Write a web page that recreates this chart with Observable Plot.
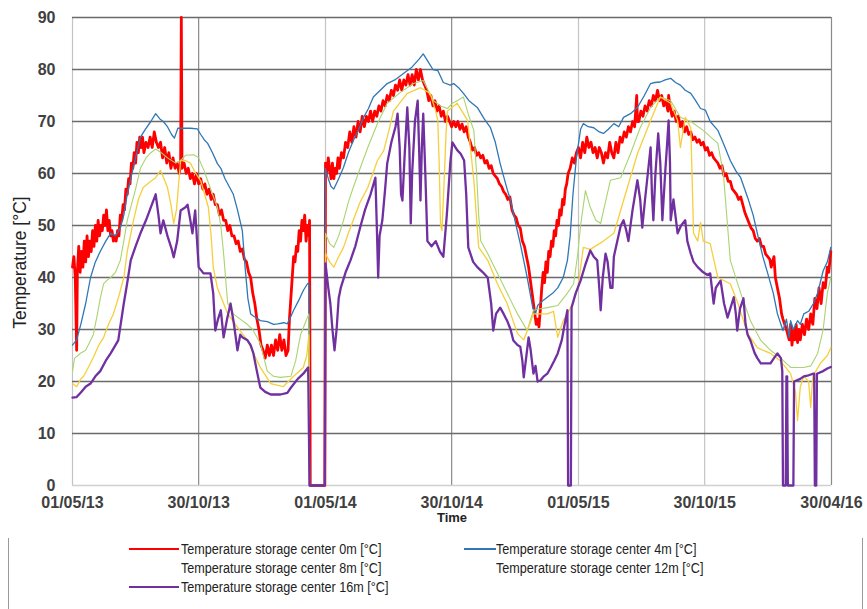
<!DOCTYPE html>
<html>
<head>
<meta charset="utf-8">
<script src="https://cdn.jsdelivr.net/npm/d3@7"></script>
<script src="https://cdn.jsdelivr.net/npm/@observablehq/plot@0.6"></script>
<style>
  html, body { margin: 0; padding: 0; background: #fff; }
  #wrap { position: relative; width: 867px; height: 609px; background: #fff; overflow: hidden; }
  #legend { position: absolute; left: 8px; top: 538px; width: 853px; height: 71px;
            border-left: 1px solid #9a9a9a; border-right: 1px solid #9a9a9a; }
  .item { position: absolute; font-family: "Liberation Sans", Arial, sans-serif;
          font-size: 14px; color: #222; white-space: nowrap; line-height: 16px;
          transform: scaleX(0.9); transform-origin: left center; }
  .sw { position: absolute; height: 2px; }
</style>
</head>
<body>
<div id="wrap">
  <div id="chart"></div>
  <div id="legend"></div>
</div>
<script>
// ---- Data (day offset from 01/05/2013, temperature °C) ----
const seriesNames = [
  "Temperature storage center 0m [°C]",
  "Temperature storage center 4m [°C]",
  "Temperature storage center 8m [°C]",
  "Temperature storage center 12m [°C]",
  "Temperature storage center 16m [°C]"
];
const yTicks = [0, 10, 20, 30, 40, 50, 60, 70, 80, 90];
const xTickDays = [0, 182, 365, 547, 730, 912, 1095];
const xTickLabels = ["01/05/13", "30/10/13", "01/05/14", "30/10/14", "01/05/15", "30/10/15", "30/04/16"];

const t0m = [
[0,42],[2,44],[4,40],[6,26],[7,41],[9,46],[11,41],[13,45],[15,42],[17,47],[19,43],[21,48],[23,44],[25,47],[27,45],[29,49],[31,46],[33,50],[35,47],[37,51],[39,48],[41,50],[43,49],[45,52],[47,50],[49,53],[51,49],[53,51],[55,48],[57,49],[59,47],[61,48],[63,47],[65,49],[67,48],[69,52],[71,51],[73,54],[75,53],[77,57],[79,56],[81,59],[83,58],[85,62],[87,61],[89,64],[91,62],[93,66],[95,64],[97,67],[99,65],[101,67],[103,64],[106,66],[109,65],[112,67],[115,65],[118,68],[121,66],[124,65],[127,66],[130,63],[133,65],[136,62],[139,64],[142,61],[145,63],[148,61],[151,62],[154,60],[156,62],[157,90],[158,61],[161,62],[164,60],[167,61],[170,59],[173,60],[176,58],[179,60],[182,58],[185,59],[188,57],[191,58],[194,56],[197,57],[200,55],[203,56],[206,54],[209,54],[212,52],[215,53],[218,51],[221,51],[224,49],[227,50],[230,48],[233,48],[236,46.5],[239,47],[242,45],[245,45.5],[248,43.5],[251,43],[254,41],[257,40],[260,37],[263,35],[266,32],[269,30],[272,27],[275,26],[278,24.5],[281,27],[284,25],[287,27],[290,25],[293,28],[296,26],[299,29],[302,26],[305,28],[308,25],[311,26],[313,32],[315,36],[317,40],[319,44],[321,43],[323,46],[325,45],[327,49],[329,47],[331,51],[333,49],[335,52],[337,47],[339,50],[341,48],[342,51],[343,0],[364,0],
[365,62],[367,60],[369,63],[371,61],[373,59],[375,62],[377,59],[379,61],[381,60],[383,63],[385,61],[388,64],[391,63],[394,66],[397,65],[400,68],[403,66],[406,69],[409,67],[412,70],[415,68],[418,71],[421,69],[424,71],[427,70],[430,72],[433,70],[436,72],[439,71],[442,73],[445,72],[448,74],[451,73],[454,75],[457,74],[460,76],[463,75],[466,77],[469,76],[472,78],[475,76],[478,78],[481,77],[484,79],[487,77],[490,79],[493,77],[496,80],[499,78],[502,80],[505,78],[508,77],[511,76],[514,74],[517,75],[520,73],[523,74],[526,72],[529,73],[532,71],[535,72],[538,70],[541,71],[544,70],[547,69],[550,70],[553,69],[556,70],[559,68.5],[562,69.5],[565,68],[568,69],[571,67],[574,66],[577,64.5],[580,65],[583,63.5],[586,64],[589,63],[592,63.5],[595,62],[598,62.5],[601,61],[604,61.5],[607,60],[610,59.5],[613,59],[616,58],[619,57.5],[622,56.5],[625,56],[628,55],[631,55.5],[634,53],[637,52],[640,51.5],[643,50],[646,49.5],[649,47],[652,46],[655,44],[658,42],[661,39],[664,36],[667,33],[669,31],[671,32],[673,30.5],[675,34],[677,38],[679,41],[681,39],[683,43],[685,41],[687,45],[689,44],[691,47],[693,46],[695,49],[697,48],[699,51],[701,50],[703,53],[705,52],[707,55],[709,54],[711,57],[713,58],[715,60],
[718,61],[721,63],[724,62],[727,64],[730,65],[733,63],[736,66],[739,64],[742,67],[745,65],[748,66],[751,64],[754,65],[757,63],[760,65],[763,64],[766,62],[769,64],[772,63],[775,66],[778,64],[781,63],[784,66],[787,64],[790,67],[793,66],[796,68],[799,67],[802,69],[805,68],[808,70],[811,69],[814,75],[815,70],[817,70],[820,72],[823,71],[826,73],[829,72],[832,74],[835,73],[838,75],[841,74],[844,76],[847,74],[850,75],[853,73],[856,74],[859,72],[860,75],[862,73],[865,71],[868,72],[871,70],[874,71],[877,69],[880,70],[883,68],[886,69],[889,67.5],[892,68],[895,66.5],[898,67],[901,66],[904,66.5],[907,65.5],[910,66],[913,64.5],[916,65],[919,63.5],[922,64],[925,63],[928,62.5],[931,62],[934,61],[937,61.5],[940,59.5],[943,60],[946,58.5],[949,58.5],[952,57],[955,56.5],[958,56],[961,55],[964,55.5],[967,54],[970,52.5],[973,51.5],[976,50.5],[979,49.5],[982,49],[985,47.5],[988,47],[991,47.5],[994,46],[997,46],[1000,44.5],[1003,44],[1006,43.5],[1008,42],[1010,43],[1012,44],[1014,40],[1017,38],[1020,36],[1023,33],[1025,32],[1030,30],[1034,28],[1036,31],[1038,27],[1040,30],[1042,28],[1044,31],[1046,27.5],[1048,30],[1050,28],[1053,31],[1056,29],[1059,32],[1062,30],[1065,33],[1068,31],[1071,36],[1074,34],[1077,38],[1080,35],[1083,39],[1086,38],[1089,42],[1091,41],[1094,45]
];

const t4m = [
[0,27],[6,28],[12,31],[19,35],[26,40],[33,43],[40,45],[48,47],[55,48.5],[62,48],[69,49.5],[74,52],[79,56],[84,59],[91,63],[98,67],[105,68.5],[113,70],[120,71.5],[126,70.5],[131,70],[137,69],[143,67.5],[147,66.8],[152,68.7],[160,68.7],[170,68.7],[180,68.6],[185,67.5],[190,66.5],[195,65.8],[202,64],[209,61.9],[214,61],[220,59],[226,57.5],[232,56],[238,53],[245,49],[249,42],[253,36],[257,33],[262,32.5],[271,31.7],[281,31.5],[290,31],[296,31.1],[305,31.3],[310,31.1],[315,32.5],[319,33.7],[326,35.5],[333,37.5],[339,38.8],[341,39],[342,0],[364,0],
[365,61],[369,59],[373,57.5],[377,57],[384,59],[391,61.2],[398,64],[405,66.3],[413,68.5],[420,70.8],[427,72.5],[434,74.7],[444,76],[454,77.3],[465,78],[477,79.2],[490,80.5],[500,82],[506,83],[513,81.5],[520,80],[527,79.8],[535,77.5],[545,77],[550,77.3],[557,76.5],[564,75.4],[572,74],[584,72.7],[594,70.5],[603,68.8],[610,66],[617,61.9],[627,57],[632,54.8],[640,50],[646,46.5],[656,40],[664,34.2],[668,33],[671,34.6],[678,35.5],[685,36.2],[693,37],[700,38],[708,40],[714,43.3],[718,48],[722,56],[727,63],[733,68.5],[737,69.6],
[744,69],[752,68.8],[760,68],[766,67.7],[773,68.5],[781,69.6],[788,69],[795,70.8],[805,71.5],[815,72.7],[825,75],[834,77.3],[840,77.5],[848,77.6],[855,78],[863,78.3],[870,77.5],[877,77],[884,76],[892,75.4],[899,74],[906,72.5],[913,72.2],[920,70],[931,68.3],[940,65.5],[949,62.5],[957,60.5],[964,59.2],[974,55.4],[982,52],[988,48.5],[996,44],[1003,40.8],[1011,37],[1017,33],[1025,29.8],[1030,32],[1034,28.5],[1036,31.7],[1040,30],[1046,31.7],[1050,31],[1055,33],[1062,33.5],[1069,35],[1075,37],[1083,41.3],[1089,43],[1094,45.8]
];

const t8m = [
[0,22],[3,24.5],[8,25],[12,25.5],[19,26],[26,27.9],[30,29],[36,33],[40,36],[45,38.8],[50,39.5],[55,40],[62,41],[69,43.3],[74,47],[79,51],[84,53.5],[91,57],[98,61],[106,63],[113,64],[120,64.7],[128,64],[137,63],[149,62],[156,62.5],[163,63.5],[175,63.6],[182,63],[185,62],[190,60.5],[195,58.6],[202,56],[209,53.5],[214,50],[218,44.6],[222,38],[224,35],[232,33],[242,32],[252,31],[260,30],[271,27.3],[281,22],[290,21],[300,20.8],[315,21],[322,24],[329,29],[335,31],[341,33],[342,0],[364,0],
[365,48.5],[371,46.5],[377,45.8],[384,48],[391,51],[398,54.5],[405,57.3],[415,61],[426,65],[440,69.6],[454,73.5],[473,75.6],[492,77.3],[506,77.9],[513,76],[521,74],[531,73],[541,72.5],[548,73.5],[555,74],[564,74.7],[572,71],[579,68.3],[583,60],[586,52],[589,47],[599,44.6],[613,40.8],[627,37],[642,33],[656,29.8],[665,33.7],[675,34],[685,34.2],[700,34.6],[714,37],[723,38.8],[729,44.6],[733,50],[740,56.7],[747,53.5],[755,51],[762,50.4],[768,54],[776,58.7],[791,59.2],[805,63.8],[819,68.8],[834,72.7],[848,74.7],[863,74],[877,70.8],[892,70],[910,68.3],[931,65.8],[939,60],[945,50],[949,43.3],[964,37],[978,31.7],[993,27.9],[1007,26],[1021,24.6],[1036,22.7],[1055,22.7],[1065,23],[1075,25.4],[1083,30],[1089,37],[1094,40]
];

const t12m = [
[0,19.6],[6,19],[12,20.5],[16,21],[22,22.5],[30,24.6],[38,27],[45,28.5],[52,31],[59,33],[66,36],[74,40],[79,45],[88,51],[95,55],[102,57.3],[113,58.5],[120,59.2],[127,60.6],[132,59],[137,57.3],[142,54],[146,50.4],[150,53],[156,62.5],[163,62.5],[170,62],[178,60],[185,58.6],[196,53.5],[200,48],[203,42],[209,38],[218,35],[224,33],[238,30.4],[252,28],[271,22.7],[286,19.6],[304,19],[319,21],[333,22.7],[338,25],[341,29],[342,0],[364,0],
[365,44.6],[371,43],[377,42],[384,44],[391,45.8],[398,48.5],[405,51],[415,54.5],[426,57.3],[440,62.5],[449,64.4],[456,68],[463,72],[483,75.4],[502,76.5],[516,75.4],[524,72],[527,70.2],[529,62],[531,50],[533,49],[536,58],[539,68],[541,72],[555,73.5],[570,70.2],[579,58.7],[586,45.8],[599,43.3],[613,38.8],[627,35],[642,29.2],[651,28],[665,33],[685,33],[694,33.5],[700,28.5],[708,31.7],[714,33],[723,35.4],[729,38],[737,45.8],[747,45.4],[766,47],[781,48.5],[795,54.8],[815,63.8],[834,70.2],[848,74.7],[863,73.5],[873,70.2],[877,65],[884,70.8],[892,68.8],[896,48.5],[902,47],[906,50.6],[910,47],[920,46.5],[931,40],[949,38.8],[959,35.4],[974,29.2],[988,26.5],[1007,25.4],[1021,24],[1036,21.5],[1043,18],[1046,12.5],[1050,19],[1055,21],[1062,20],[1065,15],[1068,21],[1079,23.5],[1089,25],[1094,26.5]
];

const t16m = [
[0,16.9],[6,17],[12,17.9],[19,19],[26,19.6],[33,21],[40,22],[48,24],[55,25.4],[62,27],[66,27.9],[74,35],[79,39],[84,43.3],[91,46],[98,48.5],[106,51],[113,53.5],[120,56],[124,52],[127,48.5],[131,51],[137,48],[143,45.5],[146,43.9],[151,47],[156,52.9],[163,53.5],[166,54],[170,51],[173,48.5],[177,52.9],[182,42],[189,40.8],[199,40.8],[203,37],[206,29.8],[210,32],[214,33.7],[218,28.5],[223,32],[228,35],[233,31],[238,26],[242,29],[245,28.5],[252,28],[257,27],[261,25.4],[266,22],[271,18.8],[278,18],[286,17.5],[300,17.5],[310,17.8],[315,18.8],[325,20.5],[333,21.5],[340,22.7],[342,0],[364,0],
[365,42.7],[369,38],[372,35],[375,30],[378,26],[381,30],[384,36],[387,38],[394,41],[401,43.3],[408,46],[415,49.6],[422,53],[430,56],[437,59.2],[439,50],[441,40],[443,48],[447,51],[451,57],[454,61.9],[460,66],[466,69],[469,71.5],[472,65],[474,56],[476,54.8],[479,63],[483,72.7],[486,65],[488,50.4],[490,60],[494,70],[498,74],[500,65],[502,54.8],[504,65],[506,71.5],[509,60],[512,47],[518,46],[524,47],[530,45],[535,44],[540,52],[545,62],[548,66],[555,64.5],[560,63.8],[565,62.5],[568,56],[571,45.8],[578,43],[584,42],[592,41],[599,40],[604,35],[607,29.8],[611,33],[617,34.2],[622,33],[627,31.7],[632,30],[636,27.9],[642,27],[646,26.7],[649,24],[651,20.8],[654,24],[658,28.5],[661,26],[665,21.5],[668,23],[671,20],[675,20.2],[680,21],[685,21.5],[690,22.7],[695,24],[700,25.4],[706,28],[710,31],[714,33.7],[715,0],[719,0],[720,34.2],
[726,37],[733,39.4],[740,42.5],[747,45.2],[752,44],[757,43.3],[760,38],[762,33.7],[765,40],[769,44.6],[772,43],[776,38],[779,38],[781,44],[786,47],[791,50],[795,51],[799,49],[802,47],[808,53],[815,58.7],[819,55],[822,49.6],[826,55],[830,60],[834,65],[836,56],[838,51],[841,60],[845,67.7],[848,62],[851,51],[855,60],[858,66],[860,70.2],[862,62],[863,51],[867,55],[873,48.5],[878,50],[884,51],[887,47],[892,44.6],[896,43],[902,42],[910,41],[916,40.5],[920,40.8],[925,35],[928,38],[935,39.4],[940,35],[945,32.3],[949,34],[954,36.2],[957,33],[959,29.8],[963,34],[968,36],[971,31],[974,29],[978,27.9],[984,25.5],[988,24.5],[993,23.5],[1000,23.5],[1007,23.5],[1012,24.5],[1017,25.4],[1022,24.5],[1024,22],[1025,0],[1029,0],[1030,21],[1031,21],[1032,0],[1040,0],[1041,20],[1050,20.5],[1055,21],[1062,21.2],[1069,21.5],[1070,21.5],[1071,0],[1073,0],[1074,21.5],[1083,22],[1089,22.5],[1094,22.8]
];

// ---- Build ----
const start = Date.UTC(2013, 4, 1);
const toDate = d => new Date(start + d * 86400000);
const seriesData = [t0m, t4m, t8m, t12m, t16m];
const colors = ["#ff0000", "#2f77b5", "#a9d46f", "#f6cf3c", "#7030a0"];
const widths = [2.8, 1.3, 1.1, 1.3, 2.3];
const rowsOf = arr => arr.map(([d, v]) => ({date: toDate(d), v}));
const tickDates = xTickDays.map(toDate);
const darkIdx = new Set([1, 3, 6]);
const darkDates = tickDates.filter((d, i) => darkIdx.has(i));
const lightDates = tickDates.filter((d, i) => !darkIdx.has(i));
const fmt = new Map(tickDates.map((d, i) => [+d, xTickLabels[i]]));

const chart = Plot.plot({
  width: 867,
  height: 528,
  marginLeft: 72,
  marginRight: 36,
  marginTop: 17,
  marginBottom: 43,
  style: {background: "#fff", overflow: "visible", fontFamily: "'Liberation Sans', Arial, sans-serif"},
  x: {type: "utc", domain: [toDate(0), toDate(1095)]},
  y: {domain: [0, 90]},
  marks: [
    Plot.ruleX(lightDates, {stroke: "#c4c4c4", strokeWidth: 1.2}),
    Plot.ruleX(darkDates, {stroke: "#8a8a8a", strokeWidth: 1.2}),
    Plot.ruleY(yTicks.filter(v => v > 0), {stroke: "#6a6a6a", strokeWidth: 1.3}),
    Plot.ruleY([0], {stroke: "#d0d0d0", strokeWidth: 1.5}),
    ...seriesData.map((s, i) => Plot.line(rowsOf(s), {
      x: "date", y: "v", stroke: colors[i], strokeWidth: widths[i], strokeLinejoin: "round"
    })),
    Plot.axisY(yTicks, {tickSize: 0, tickPadding: 17, label: null, fontSize: 16, fontWeight: "bold", fill: "#404040"}),
    Plot.axisX(tickDates, {tickSize: 0, tickPadding: 11, label: null, tickFormat: d => fmt.get(+d),
      fontSize: 16, fontWeight: "bold", fill: "#404040"}),
    Plot.text(["Temperature [°C]"], {frameAnchor: "left", textAnchor: "middle", rotate: -90, dx: -52, dy: 11,
      fontSize: 17.5, fill: "#222"}),
    Plot.text(["Time"], {frameAnchor: "bottom", dy: 36, fontSize: 13, fontWeight: "bold", fill: "#222"})
  ]
});
document.getElementById("chart").appendChild(chart);

// ---- Legend ----
const legend = document.getElementById("legend");
const legendLayout = [
  {left: 172, top: 3, swL: 120, swW: 50, sw: true},
  {left: 487, top: 3, swL: 455, swW: 32, sw: true},
  {left: 172, top: 22, sw: false},
  {left: 487, top: 22, sw: false},
  {left: 172, top: 41, swL: 120, swW: 50, sw: true}
];
seriesNames.forEach((name, i) => {
  const L = legendLayout[i];
  if (L.sw) {
    const s = document.createElement("div");
    s.className = "sw";
    s.style.left = L.swL + "px";
    s.style.width = L.swW + "px";
    s.style.top = (L.top + 7) + "px";
    s.style.background = colors[i];
    legend.appendChild(s);
  }
  const t = document.createElement("div");
  t.className = "item";
  t.style.left = L.left + "px";
  t.style.top = L.top + "px";
  t.textContent = name;
  legend.appendChild(t);
});
</script>
</body>
</html>
